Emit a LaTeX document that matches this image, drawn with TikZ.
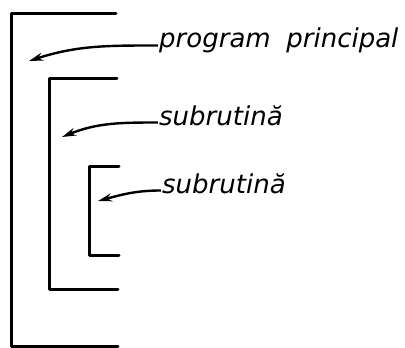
\documentclass[tikz,border=0pt]{standalone}
\usepackage{fontspec}
\setsansfont{DejaVu Sans}
\usepackage{tikz}
\usetikzlibrary{arrows.meta,positioning}
\tikzstyle{bracket} = [line width=3pt, line cap=round, line join=round]
\tikzstyle{pointer} = [line width=2.4pt, -{Stealth[length=14pt,width=8pt]}]
\tikzstyle{label} = [anchor=base west, inner sep=1pt, text height=0.75em, text depth=0.25em,
                     font=\fontsize{26}{29}\sffamily\itshape]

\begin{document}
\begin{tikzpicture}[x=1pt,y=-1pt]
\useasboundingbox (0,0) rectangle (405,348);
% nested brackets
\draw[bracket] (116,13) -- (11,13) -- (11,346) -- (118,346);
\draw[bracket] (117,78) -- (49,78) -- (49,289) -- (118,289);
\draw[bracket] (119,166) -- (89,166) -- (89,255) -- (119,255);

\node[label] (main) at (158,48) {program\hspace{0.6em}principal};
\node[label] (sub1) at (158,125) {subrutină};
\node[label] (sub2) at (161,193) {subrutină};

\coordinate (mainTip) at (29,61);
\coordinate (sub1Tip) at (62,137);
\coordinate (sub2Tip) at (98,201);

\draw[pointer] (main.west) to[out=180,in=18] (mainTip);
\draw[pointer] (sub1.west) to[out=180,in=22] (sub1Tip);
\draw[pointer] (sub2.west) to[out=180,in=15] (sub2Tip);
\end{tikzpicture}
\end{document}
